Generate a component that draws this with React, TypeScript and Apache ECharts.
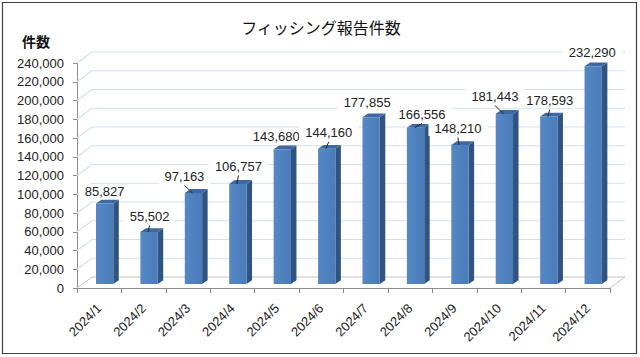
import React, { useEffect, useRef } from "react";
import * as echarts from "echarts";

const categories = [
  "2024/1", "2024/2", "2024/3", "2024/4", "2024/5", "2024/6",
  "2024/7", "2024/8", "2024/9", "2024/10", "2024/11", "2024/12",
];
const reportCounts = [
  85827, 55502, 97163, 106757, 143680, 144160,
  177855, 166556, 148210, 181443, 178593, 232290,
];
const yTicks = [
  0, 20000, 40000, 60000, 80000, 100000, 120000,
  140000, 160000, 180000, 200000, 220000, 240000,
];
// label placement (layout only): offset of label centre from bar top
const labelOffsets = [
  [0, -12], [0.5, -15.5], [-9, -16.5], [0.5, -17.5], [-6, -13], [2, -16],
  [-4, -14.5], [6.5, -13.5], [-2, -16.5], [-9.5, -17.5], [1, -16], [-1, -14],
];
const hasLeader = [false, true, true, true, false, true, false, true, true, true, true, false];

const NUM_FONT = "'Liberation Sans', Arial, sans-serif";
const JP_FONT = "'Noto Sans CJK JP', sans-serif";
const DEPTH_X = 15;
const DEPTH_Y = 11;
const fmt = (v: number) => v.toLocaleString("en-US");

function barGeom(api: any) {
  const i = api.value(0);
  const v = api.value(1);
  const base = api.coord([i, 0]);
  const top = api.coord([i, v]);
  const band = api.size([1, 0])[0];
  const w = band * 0.39;
  const cx = base[0] + band * 0.122;
  return { i, v, cx, w, y0: base[1] - 4, y1: top[1] - 4 };
}

export default function App() {
  const ref = useRef<HTMLDivElement>(null);
  useEffect(() => {
    document.body.style.margin = "0";
    if (!ref.current) return;
    const chart = echarts.init(ref.current, null, { renderer: "svg" });
    const frontFill = new echarts.graphic.LinearGradient(0, 0, 1, 0, [
      { offset: 0, color: "#5688c6" },
      { offset: 1, color: "#4a7bb8" },
    ]);
    chart.setOption({
      animation: false,
      backgroundColor: "#ffffff",
      grid: { left: 77, top: 63, width: 533, height: 225 },
      graphic: [
        {
          type: "rect",
          shape: { x: 2.5, y: 2.5, width: 634, height: 351 },
          style: { fill: "none", stroke: "#404040", lineWidth: 1.2 },
          silent: true,
        },
        {
          type: "text",
          x: 321,
          y: 27,
          style: {
            text: "フィッシング報告件数",
            font: `16px ${JP_FONT}`,
            fill: "#111",
            align: "center",
            verticalAlign: "middle",
          },
        },
        {
          type: "text",
          x: 22,
          y: 41,
          style: {
            text: "件数",
            font: `bold 14px ${JP_FONT}`,
            fill: "#111",
            align: "left",
            verticalAlign: "middle",
          },
        },
      ],
      xAxis: {
        type: "category",
        data: categories,
        boundaryGap: true,
        axisLine: { show: true, lineStyle: { color: "#8c8c8c", width: 1 } },
        axisTick: { show: true, interval: 0, length: 5, lineStyle: { color: "#8c8c8c" } },
        axisLabel: {
          interval: 0,
          rotate: 45,
          margin: 18,
          fontSize: 13,
          fontFamily: NUM_FONT,
          color: "#222",
        },
        splitLine: { show: false },
      },
      yAxis: {
        type: "value",
        min: 0,
        max: 240000,
        interval: 20000,
        axisLine: { show: true, lineStyle: { color: "#8c8c8c", width: 1 } },
        axisTick: { show: true, length: 4, lineStyle: { color: "#8c8c8c" } },
        axisLabel: {
          margin: 13,
          fontSize: 13,
          fontFamily: NUM_FONT,
          color: "#222",
          formatter: (v: number) => fmt(v),
        },
        splitLine: { show: false },
      },
      series: [
        {
          type: "custom",
          z: 1,
          silent: true,
          clip: false,
          data: yTicks.map((v) => [0, v]),
          renderItem: (params: any, api: any) => {
            const cs = params.coordSys;
            const v = api.value(1);
            const y = api.coord([0, v])[1];
            const x0 = cs.x;
            const x1 = cs.x + cs.width;
            if (v === 0) {
              return {
                type: "polyline",
                shape: {
                  points: [
                    [x0, y],
                    [x0 + DEPTH_X, y - DEPTH_Y],
                    [x1 + DEPTH_X, y - DEPTH_Y],
                    [x1, y],
                  ],
                },
                style: { stroke: "#c4c4c4", lineWidth: 1, fill: "none" },
              };
            }
            return {
              type: "polyline",
              shape: {
                points: [
                  [x0, y],
                  [x0 + DEPTH_X, y - DEPTH_Y],
                  [x1 + DEPTH_X, y - DEPTH_Y],
                ],
              },
              style: { stroke: "#d2e0f2", lineWidth: 1.2, fill: "none" },
            };
          },
        },
        {
          type: "custom",
          z: 2,
          silent: true,
          clip: false,
          data: reportCounts.map((v, i) => [i, v]),
          renderItem: (params: any, api: any) => {
            const g = barGeom(api);
            const l = g.cx - g.w / 2;
            const r = g.cx + g.w / 2;
            const dx = 5.5;
            const dy = 3.8;
            return {
              type: "group",
              children: [
                {
                  type: "polygon",
                  shape: { points: [[r, g.y1], [r + dx, g.y1 - dy], [r + dx, g.y0 - dy], [r, g.y0]] },
                  style: { fill: "#2f5482" },
                },
                {
                  type: "polygon",
                  shape: { points: [[l, g.y1], [l + dx, g.y1 - dy], [r + dx, g.y1 - dy], [r, g.y1]] },
                  style: { fill: "#3c69a2" },
                },
                {
                  type: "rect",
                  shape: { x: l, y: g.y1, width: g.w, height: g.y0 - g.y1 },
                  style: { fill: frontFill },
                },
              ],
            };
          },
        },
        {
          type: "custom",
          z: 3,
          silent: true,
          clip: false,
          data: reportCounts.map((v, i) => [i, v]),
          renderItem: (params: any, api: any) => {
            const g = barGeom(api);
            const off = labelOffsets[g.i];
            const lx = g.cx + off[0];
            const ly = g.y1 + off[1];
            const children: any[] = [
              {
                type: "text",
                x: lx,
                y: ly,
                style: {
                  text: fmt(g.v),
                  font: `13px ${NUM_FONT}`,
                  fill: "#222",
                  align: "center",
                  verticalAlign: "middle",
                  backgroundColor: "#ffffff",
                  padding: [1, 6],
                },
              },
            ];
            if (hasLeader[g.i]) {
              children.push({
                type: "line",
                shape: { x1: lx, y1: ly + 9, x2: g.cx - 1, y2: g.y1 },
                style: { stroke: "#222", lineWidth: 1 },
              });
            }
            return { type: "group", children };
          },
        },
      ],
    });
    return () => chart.dispose();
  }, []);
  return <div ref={ref} style={{ width: 640, height: 357 }} />;
}
